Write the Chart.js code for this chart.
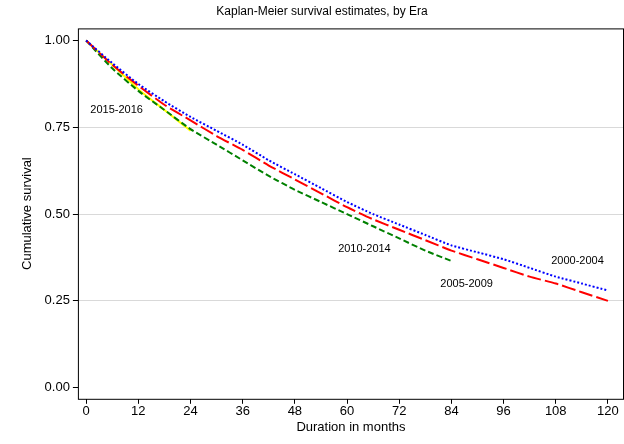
<!DOCTYPE html>
<html><head><meta charset="utf-8">
<script src="https://cdn.jsdelivr.net/npm/chart.js@4"></script>
<style>html,body{margin:0;background:#fff}#w{width:624px;height:444px}</style>
</head><body><div id="w"><canvas id="c"></canvas></div>
<script>
const months = [0,6,12,18,24,30,36,42,48,54,60,66,72,78,84,90,96,102,108,114,120];
const era2000 = [1,0.935,0.875,0.825,0.78,0.74,0.70,0.655,0.615,0.575,0.535,0.50,0.47,0.44,0.41,0.39,0.37,0.345,0.32,0.30,0.28];
const era2005 = [1,0.93,0.87,0.815,0.77,0.725,0.685,0.64,0.60,0.56,0.52,0.485,0.455,0.425,0.395,0.37,0.345,0.32,0.30,0.275,0.25];
const era2010 = [1,0.92,0.855,0.80,0.745,0.70,0.655,0.61,0.57,0.535,0.50,0.465,0.43,0.395,0.365];
const era2015 = [1,0.93,0.86,0.80,0.74];
const xTicks = [0,12,24,36,48,60,72,84,96,108,120];
const yTicks = [0,0.25,0.5,0.75,1];
const labels = [
  {t:'2015-2016', x:7, y:0.80},
  {t:'2010-2014', x:64, y:0.40},
  {t:'2005-2009', x:87.5, y:0.30},
  {t:'2000-2004', x:113, y:0.365}
];
const F = '"Liberation Sans", Arial';
const pts = (ys) => ys.map((y,i)=>({x:months[i], y}));
const txt = {
  id:'txt',
  afterDatasetsDraw(ch){
    const {ctx, scales:{x,y}, chartArea:a} = ch;
    ctx.save();
    ctx.strokeStyle='#000'; ctx.lineWidth=1;
    ctx.strokeRect(a.left+0.5, a.top+0.5, a.right-a.left-1, a.bottom-a.top);
    ctx.font='11px '+F; ctx.fillStyle='#000';
    ctx.textAlign='center'; ctx.textBaseline='middle';
    labels.forEach(l=>ctx.fillText(l.t, x.getPixelForValue(l.x), y.getPixelForValue(l.y)));
    ctx.restore();
  }
};
const ds = (d,c,dash,w) => ({data:pts(d), borderColor:c, borderDash:dash, borderWidth:w||2, pointRadius:0, fill:false, tension:0.2});
new Chart(document.getElementById('c'), {
  type:'line',
  data:{datasets:[
    ds(era2000,'#0000ff',[2,2]),
    ds(era2005,'#ff0000',[14,4]),
    ds(era2010,'#008000',[6,3]),
    ds(era2015,'#ffff00',[])
  ]},
  options:{
    responsive:true, maintainAspectRatio:false, animation:false,
    layout:{padding:{left:20,right:0,top:0,bottom:9}},
    plugins:{legend:{display:false}, tooltip:{enabled:false},
      title:{display:true, text:'Kaplan-Meier survival estimates, by Era', color:'#000',
        font:{family:F, size:12, weight:'normal'}, padding:{top:4,bottom:10}}},
    scales:{
      x:{type:'linear', min:-1.9, max:123.7, afterBuildTicks:s=>{s.ticks=xTicks.map(v=>({value:v}))},
        grid:{drawOnChartArea:false, tickColor:'#000', tickLength:5}, border:{display:false},
        ticks:{color:'#000', padding:0, font:{family:F, size:13}},
        title:{display:true, text:'Duration in months', color:'#000', font:{family:F, size:13}, padding:0}},
      y:{min:-0.032, max:1.035, afterBuildTicks:s=>{s.ticks=yTicks.map(v=>({value:v}))},
        grid:{color:ctx=>ctx.tick && ctx.tick.value>0 && ctx.tick.value<1 ? '#d9d9d9':'rgba(0,0,0,0)', tickColor:'#000', tickLength:5},
        border:{display:false},
        ticks:{color:'#000', padding:3, callback:v=>v.toFixed(2), font:{family:F, size:13}},
        title:{display:true, text:'Cumulative survival', color:'#000', font:{family:F, size:13}, padding:{top:0,bottom:6}}}
    }
  },
  plugins:[txt]
});
</script></body></html>
